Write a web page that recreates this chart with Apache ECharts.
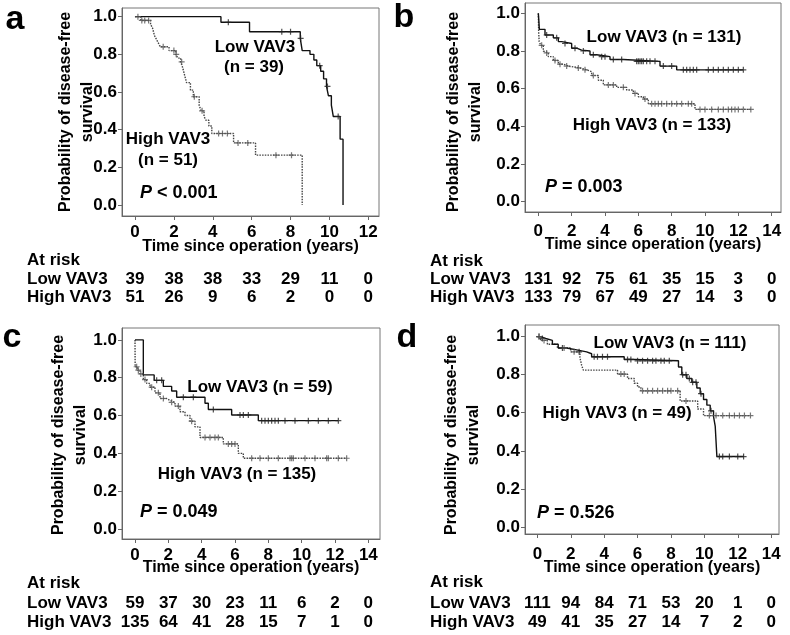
<!DOCTYPE html>
<html><head><meta charset="utf-8">
<script src="https://cdn.jsdelivr.net/npm/echarts@6/dist/echarts.min.js"></script>
<style>html,body{margin:0;padding:0;background:#fff}#c{width:790px;height:635px}</style>
</head><body><div id="c"></div>
<script>
// ---------- Panel a ----------
var aLowT  = [0, 4.42, 5.89, 8.5, 8.6, 9.0, 9.2, 9.35, 9.55, 9.7, 9.85, 9.95, 10.1, 10.2, 10.55, 10.7];
var aLowS  = [1.0, 0.97, 0.92, 0.885, 0.82, 0.80, 0.77, 0.74, 0.71, 0.67, 0.63, 0.58, 0.53, 0.47, 0.35, 0.0];
var aHighT = [0, 0.3, 0.8, 0.9, 0.95, 1.0, 1.1, 1.2, 1.3, 1.75, 2.1, 2.2, 2.35, 2.45, 2.55, 2.65, 2.85, 3.0, 3.3, 3.4, 3.55, 3.65, 3.8, 3.95, 5.07, 6.2, 8.6];
var aHighS = [1.0, 0.98, 0.96, 0.94, 0.92, 0.90, 0.88, 0.86, 0.84, 0.82, 0.80, 0.78, 0.76, 0.73, 0.69, 0.65, 0.61, 0.575, 0.53, 0.50, 0.47, 0.45, 0.42, 0.38, 0.33, 0.265, 0.0];
var aLowCens  = [4.8, 7.55, 8.0, 8.52, 9.5, 9.9, 10.45];
var aHighCens = [0.15, 0.35, 0.5, 0.7, 1.45, 2.0, 2.12, 2.4, 3.05, 3.45, 4.3, 4.5, 4.75, 5.3, 5.8, 7.25, 8.05];
var aTicks = [0, 2, 4, 6, 8, 10, 12];
var aRiskLow  = [39, 38, 38, 33, 29, 11, 0];
var aRiskHigh = [51, 26, 9, 6, 2, 0, 0];

// ---------- Panel b ----------
var bLowT  = [0, 0.03, 0.06, 0.4, 0.9, 1.2, 1.4, 2.0, 2.3, 2.6, 3.1, 3.5, 4.3, 5.1, 7.3, 8.3, 12.3];
var bLowS  = [1.0, 0.96, 0.915, 0.885, 0.87, 0.85, 0.84, 0.815, 0.805, 0.80, 0.78, 0.77, 0.755, 0.745, 0.72, 0.70, 0.70];
var bHighT = [0, 0.02, 0.05, 0.15, 0.3, 0.4, 0.6, 0.9, 1.2, 1.5, 1.8, 2.5, 2.9, 3.2, 3.6, 3.9, 4.7, 5.3, 5.7, 6.0, 6.3, 6.6, 9.4, 12.75];
var bHighS = [1.0, 0.90, 0.85, 0.83, 0.80, 0.79, 0.77, 0.75, 0.73, 0.72, 0.71, 0.70, 0.69, 0.67, 0.645, 0.62, 0.607, 0.593, 0.575, 0.557, 0.545, 0.52, 0.49, 0.49];
var bLowCens  = [0.5, 1.1, 1.6, 2.2, 2.7, 3.3, 3.8, 4.0, 4.5, 5.0, 5.9, 6.0, 6.1, 6.2, 6.3, 6.5, 6.7, 7.0, 7.5, 8.0, 8.7, 8.9, 9.1, 9.3, 9.5, 10.2, 10.5, 10.8, 11.1, 11.4, 11.7, 12.0, 12.3];
var bHighCens = [0.2, 0.5, 1.0, 1.3, 1.7, 2.4, 2.8, 3.3, 4.2, 4.5, 5.1, 5.8, 6.4, 6.8, 7.0, 7.2, 7.4, 7.7, 8.0, 8.3, 8.6, 9.0, 9.2, 9.7, 10.0, 10.4, 10.8, 11.1, 11.4, 11.6, 11.8, 12.0, 12.3, 12.75];
var bTicks = [0, 2, 4, 6, 8, 10, 12, 14];
var bRiskLow  = [131, 92, 75, 61, 35, 15, 3, 0];
var bRiskHigh = [133, 79, 67, 49, 27, 14, 3, 0];

// ---------- Panel c ----------
var cLowT  = [0, 0.5, 1.15, 1.7, 2.2, 2.5, 4.2, 4.4, 5.8, 7.4, 12.2];
var cLowS  = [1.0, 0.815, 0.786, 0.754, 0.73, 0.697, 0.665, 0.632, 0.603, 0.573, 0.573];
var cHighT = [0, 0.01, 0.15, 0.3, 0.5, 0.7, 0.9, 1.2, 1.5, 1.9, 2.1, 2.4, 2.7, 3.0, 3.3, 3.6, 3.9, 5.3, 6.2, 6.5, 12.7];
var cHighS = [1.0, 0.858, 0.84, 0.82, 0.79, 0.77, 0.75, 0.72, 0.69, 0.68, 0.67, 0.65, 0.62, 0.60, 0.57, 0.54, 0.484, 0.45, 0.40, 0.374, 0.374];
var cLowCens  = [1.3, 1.6, 2.9, 3.5, 4.7, 6.3, 6.5, 6.8, 7.6, 7.8, 8.0, 8.2, 8.4, 8.6, 9.0, 9.6, 10.4, 11.0, 11.6, 12.2];
var cHighCens = [0.1, 0.2, 0.35, 0.6, 1.0, 1.4, 1.7, 2.2, 2.6, 3.4, 4.2, 4.5, 4.8, 5.0, 5.6, 5.8, 6.0, 7.0, 7.5, 8.0, 8.6, 9.3, 9.4, 9.5, 10.2, 10.8, 11.5, 11.6, 12.2, 12.7];
var cTicks = [0, 2, 4, 6, 8, 10, 12, 14];
var cRiskLow  = [59, 37, 30, 23, 11, 6, 2, 0];
var cRiskHigh = [135, 64, 41, 28, 15, 7, 1, 0];

// ---------- Panel d ----------
var dLowT  = [0, 0.2, 0.5, 0.9, 1.25, 1.75, 2.35, 2.95, 3.25, 5.2, 5.8, 8.45, 8.65, 8.95, 9.25, 9.55, 9.75, 9.95, 10.15, 10.35, 10.55, 10.65, 10.75, 12.36];
var dLowS  = [1.0, 0.99, 0.98, 0.96, 0.94, 0.93, 0.92, 0.91, 0.894, 0.88, 0.873, 0.84, 0.80, 0.78, 0.76, 0.73, 0.70, 0.67, 0.64, 0.61, 0.58, 0.53, 0.37, 0.37];
var dHighT = [0, 0.2, 0.6, 1.2, 2.0, 2.55, 2.65, 2.75, 4.8, 5.4, 5.8, 6.0, 6.2, 8.55, 9.6, 9.95, 12.76];
var dHighS = [1.0, 0.98, 0.96, 0.94, 0.92, 0.89, 0.85, 0.824, 0.803, 0.78, 0.755, 0.735, 0.715, 0.662, 0.62, 0.585, 0.585];
var dLowCens  = [0.1, 0.3, 1.5, 2.5, 3.4, 3.6, 3.9, 4.2, 5.4, 5.6, 6.0, 6.3, 6.6, 6.9, 7.1, 7.4, 7.6, 7.9, 8.7, 8.9, 9.1, 9.3, 9.5, 9.8, 10.4, 10.9, 11.1, 11.5, 12.0, 12.35];
var dHighCens = [0.1, 0.4, 1.6, 2.2, 5.0, 5.2, 6.3, 6.6, 6.9, 7.2, 7.5, 7.8, 8.0, 8.4, 8.9, 10.3, 10.7, 11.1, 11.5, 11.8, 12.1, 12.4, 12.76];
var dTicks = [0, 2, 4, 6, 8, 10, 12, 14];
var dRiskLow  = [111, 94, 84, 71, 53, 20, 1, 0];
var dRiskHigh = [49, 41, 35, 27, 14, 7, 2, 0];

var yTicks = [0, 0.2, 0.4, 0.6, 0.8, 1.0];

// ---------- layout (pixels / axis ranges) ----------
var FONT = '"Liberation Sans", Arial, sans-serif';
var panels = [
  {letter:'a', lowT:aLowT, lowS:aLowS, highT:aHighT, highS:aHighS, lowC:aLowCens, highC:aHighCens, ticks:aTicks, rl:aRiskLow, rh:aRiskHigh,
   grid:{left:122, top:8, width:257, height:208}, xr:[-0.669, 12.55], yr:[-0.058, 1.046], xm:8,
   letterPos:[15,20], ytitle:[77,112], xtitleY:247, tabX:27, tabY:[260,279,297],
   notes:[['Low VAV3',255,47],['(n = 39)',254,67],['High VAV3',168,139],['(n = 51)',168,160]], p:['<',140,193,'0.001']},
  {letter:'b', lowT:bLowT, lowS:bLowS, highT:bHighT, highS:bHighS, lowC:bLowCens, highC:bHighCens, ticks:bTicks, rl:bRiskLow, rh:bRiskHigh,
   grid:{left:525, top:3, width:256, height:209}, xr:[-0.80, 14.56], yr:[-0.055, 1.055], xm:11,
   letterPos:[404,18], ytitle:[465,112], xtitleY:245, tabX:430, tabY:[261,279,297],
   notes:[['Low VAV3 (n = 131)',664,37],['High VAV3 (n = 133)',652,125]], p:['=',545,187,'0.003']},
  {letter:'c', lowT:cLowT, lowS:cLowS, highT:cHighT, highS:cHighS, lowC:cLowCens, highC:cHighCens, ticks:cTicks, rl:cRiskLow, rh:cRiskHigh,
   grid:{left:122, top:328, width:258, height:211}, xr:[-0.78, 14.7], yr:[-0.053, 1.063], xm:8,
   letterPos:[12,338], ytitle:[70,435], xtitleY:568, tabX:27, tabY:[583,603,622],
   notes:[['Low VAV3 (n = 59)',260,387],['High VAV3 (n = 135)',237,474]], p:['=',140,512,'0.049']},
  {letter:'d', lowT:dLowT, lowS:dLowS, highT:dHighT, highS:dHighS, lowC:dLowCens, highC:dHighCens, ticks:dTicks, rl:dRiskLow, rh:dRiskHigh,
   grid:{left:525, top:325, width:254, height:209}, xr:[-0.74, 14.47], yr:[-0.037, 1.061], xm:12,
   letterPos:[407,338], ytitle:[463,435], xtitleY:568, tabX:430, tabY:[582,603,622],
   notes:[['Low VAV3 (n = 111)',670,343],['High VAV3 (n = 49)',617,413]], p:['=',537,513,'0.526']}
];

function stepAt(T, S, t){ var v = S[0]; for (var i=0;i<T.length;i++){ if (T[i] <= t) v = S[i]; } return v; }
function zip(T, S){ return T.map(function(t,i){ return [t, S[i]]; }); }
var PLUS = 'path://M4,0h2v4h4v2h-4v4h-2v-4h-4v-2h4z';
var AX = '#666';

var grids=[], xAxes=[], yAxes=[], series=[];
panels.forEach(function(p, k){
  grids.push({left:p.grid.left, top:p.grid.top, width:p.grid.width, height:p.grid.height, show:true, borderColor:'#777', borderWidth:1, backgroundColor:'transparent'});
  xAxes.push({gridIndex:k, type:'value', min:p.xr[0], max:p.xr[1],
    axisLine:{show:true, onZero:false, lineStyle:{color:AX}},
    axisTick:{show:true, customValues:p.ticks, length:4, lineStyle:{color:AX}},
    axisLabel:{customValues:p.ticks, margin:p.xm, color:'#000', fontSize:17, fontWeight:'bold', fontFamily:FONT},
    splitLine:{show:false}});
  yAxes.push({gridIndex:k, type:'value', min:p.yr[0], max:p.yr[1],
    axisLine:{show:true, onZero:false, lineStyle:{color:AX}},
    axisTick:{show:true, customValues:yTicks, length:4, lineStyle:{color:AX}},
    axisLabel:{customValues:yTicks, margin:5, color:'#000', fontSize:17, fontWeight:'bold', fontFamily:FONT, formatter:function(v){return v.toFixed(1);}},
    splitLine:{show:false}});
  series.push({type:'line', xAxisIndex:k, yAxisIndex:k, step:'end', symbol:'none', data:zip(p.lowT,p.lowS),
    lineStyle:{color:'#111', width:1.4}, z:3, animation:false});
  series.push({type:'line', xAxisIndex:k, yAxisIndex:k, step:'end', symbol:'none', data:zip(p.highT,p.highS),
    lineStyle:{color:'#444', width:1.4, type:[1.5,1.2]}, z:2, animation:false});
  series.push({type:'scatter', xAxisIndex:k, yAxisIndex:k, symbol:PLUS, symbolSize:6,
    data:p.lowC.map(function(t){return [t, stepAt(p.lowT,p.lowS,t)];}), itemStyle:{color:'#222'}, animation:false, z:4});
  series.push({type:'scatter', xAxisIndex:k, yAxisIndex:k, symbol:PLUS, symbolSize:6,
    data:p.highC.map(function(t){return [t, stepAt(p.highT,p.highS,t)];}), itemStyle:{color:'#555'}, animation:false, z:4});
});

var chart = echarts.init(document.getElementById('c'));
chart.setOption({animation:false, backgroundColor:'#fff', grid:grids, xAxis:xAxes, yAxis:yAxes, series:series});

function txt(s, x, y, size, align, extra){
  var st = {text:s, x:0, y:0, fill:'#000', font:'bold '+size+'px '+FONT, align:align||'center', verticalAlign:'middle'};
  if (extra) for (var kk in extra) st[kk]=extra[kk];
  return {type:'text', x:x, y:y, style:st, z:10};
}
var g = [];
panels.forEach(function(p, k){
  g.push(txt(p.letter, p.letterPos[0], p.letterPos[1], 34));
  var yt = txt('Probability of disease-free\nsurvival', p.ytitle[0], p.ytitle[1], 16, 'center', {lineHeight:22});
  yt.rotation = Math.PI/2;
  g.push(yt);
  var cx = p.grid.left + p.grid.width/2;
  g.push(txt('Time since operation (years)', cx, p.xtitleY, 16));
  g.push(txt('At risk', p.tabX, p.tabY[0], 17, 'left'));
  g.push(txt('Low VAV3', p.tabX, p.tabY[1], 17, 'left'));
  g.push(txt('High VAV3', p.tabX, p.tabY[2], 17, 'left'));
  p.ticks.forEach(function(t, i){
    var px = chart.convertToPixel({xAxisIndex:k}, t);
    g.push(txt(String(p.rl[i]), px, p.tabY[1], 17));
    g.push(txt(String(p.rh[i]), px, p.tabY[2], 17));
  });
  p.notes.forEach(function(n){ g.push(txt(n[0], n[1], n[2], 17)); });
  g.push({type:'text', x:p.p[1], y:p.p[2], z:10, style:{
    text:'{i|P} '+p.p[0]+' '+p.p[3], x:0, y:0, align:'left', verticalAlign:'middle',
    font:'bold 18px '+FONT, fill:'#000',
    rich:{i:{fontStyle:'italic', fontWeight:'bold', fontSize:18, fontFamily:FONT, fill:'#000'}}}});
});
chart.setOption({graphic:g});
</script></body></html>
